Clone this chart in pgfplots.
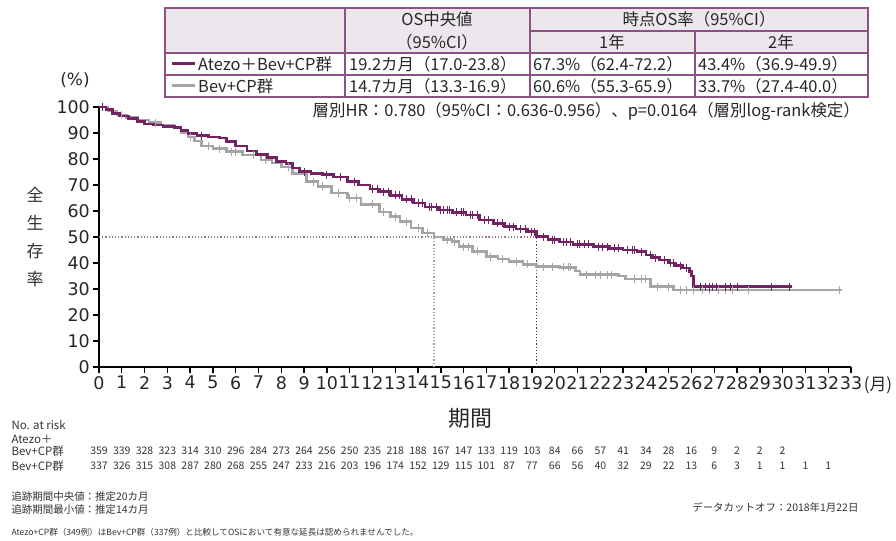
\documentclass[border=0pt]{standalone}
\usepackage{fontspec}
\setmainfont{Noto Sans CJK JP}
\newfontfamily\dejavu{DejaVu Sans}
\usepackage{pgfplots}
\pgfplotsset{compat=1.18}
\definecolor{kpurple}{RGB}{115,35,100}
\definecolor{kgray}{RGB}{165,165,165}
\definecolor{kborder}{RGB}{140,80,130}
\definecolor{khead}{RGB}{236,231,236}
\definecolor{kdot}{RGB}{150,120,140}
\newcommand{\fs}[1]{\fontsize{#1}{#1}\selectfont}
\begin{document}
\begin{tikzpicture}[x=1bp,y=1bp]
\useasboundingbox (0,0) rectangle (896,541);
\begin{axis}[at={(99bp,174bp)}, anchor=south west, scale only axis,
  width=752bp, height=260bp, xmin=0, xmax=33, ymin=0, ymax=100,
  axis x line=bottom, axis y line=left,
  axis line style={line width=1.6bp,-},
  xtick={0,...,33}, ytick={0,10,...,100},
  tick align=outside, major tick length=6bp,
  tick style={line width=1.4bp,black},
  ticklabel style={font=\dejavu\fs{17.5}, text=black!85},
  /pgf/number format/assume math mode=true,
  xticklabel style={inner sep=3bp},
  yticklabel style={inner sep=3bp},
  clip=false]
\addplot[kdot, dotted, line width=1.2bp] coordinates {(0,50) (19.2,50)};
\addplot[kgray, dotted, line width=1.2bp] coordinates {(14.7,0) (14.7,50)};
\addplot[kpurple, dotted, line width=1.2bp] coordinates {(19.2,0) (19.2,50)};
% Bev+CP
\addplot[const plot, kgray, line width=2.5bp] coordinates {
(0,100) (0.4,98.5) (0.8,97) (1.2,96) (1.7,95) (2.2,94) (2.7,93) (3.3,92) (3.6,90) (3.9,88.5)
(4.2,87) (4.5,85) (5.0,84) (5.6,82.8) (6.3,81.5) (7.1,79.6) (7.6,78.5) (8.0,77) (8.5,74.5)
(9.1,71.3) (9.6,69.5) (10.2,67) (10.9,64.9) (11.5,62.5) (12.3,59.7) (12.8,57.8) (13.2,55.9)
(13.7,53.5) (14.2,51.5) (14.7,50) (15.1,49) (15.5,48.2) (15.8,46.3) (16.4,44.5) (17.0,42.4)
(17.5,41.5) (18.0,40.5) (18.6,39.5) (19.2,38.6) (20.2,38.3) (20.9,37) (21.1,35.5) (22.8,35)
(23.1,33.8) (24.2,30.9) (25.2,29.6) (32.6,29.6)};
\addplot[only marks, mark=|, mark size=4bp, kgray, mark options={line width=1bp}] coordinates {
(1.0,97) (2.5,94) (4.0,88.5) (4.8,85) (5.3,84) (5.8,82.8) (6.0,82.8) (6.8,81.5) (7.3,79.6) (8.3,77)
(9.4,71.3) (9.8,69.5) (10.5,67) (11.0,64.9) (11.3,64.9) (12.0,62.5) (12.5,59.7) (13.0,57.8)
(13.5,55.9) (14.0,53.5) (14.4,51.5) (15.3,49) (15.6,48.2) (16.0,46.3) (16.2,46.3) (16.6,44.5)
(17.2,42.4) (17.7,41.5) (18.3,40.5) (18.8,39.5) (19.5,38.6) (19.9,38.6) (20.4,38.3) (20.6,38.3)
(20.7,38.3) (21.4,35.5) (21.8,35.5) (22.0,35.5) (22.3,35.5) (22.5,35.5) (23.5,33.8) (23.8,33.8)
(24.0,33.8) (24.5,30.9) (25.0,30.9) (25.5,29.6) (25.8,29.6) (26.1,29.6) (26.5,29.6) (26.8,29.6)
(27.2,29.6) (27.5,29.6) (27.8,29.6) (28.5,29.6) (32.5,29.6)};
% Atezo+Bev+CP
\addplot[const plot, kpurple, line width=2.6bp] coordinates {
(0,100) (0.3,99) (0.6,97.5) (0.9,96.5) (1.3,95.5) (1.7,94.5) (2.0,93.5) (2.4,93) (2.8,92.5)
(3.3,92) (3.6,91) (3.9,89.8) (4.3,89) (4.8,88.5) (5.3,88) (5.6,86.8) (6.0,85) (6.5,83) (6.9,81.8)
(7.4,80.5) (7.8,79) (8.2,78.3) (8.5,76.5) (8.8,75.1) (9.3,74.5) (9.8,74) (10.3,73) (10.9,71.3)
(11.4,70) (11.9,68.5) (12.3,67.4) (12.8,66) (13.3,64.5) (13.8,63) (14.3,61.5) (14.9,60.4)
(15.5,59.5) (16.1,58.5) (16.7,56.5) (17.3,55.3) (17.8,54) (18.3,53) (18.8,52) (19.2,50.1)
(19.7,49) (20.2,48) (20.8,47.2) (21.7,46.3) (22.4,45.6) (23.0,45) (23.6,44.4) (24.0,43)
(24.3,42) (24.6,41.2) (25.0,40) (25.3,39) (25.6,38) (25.9,36.7) (26.0,35) (26.1,30.9) (30.4,30.9)};
\addplot[only marks, mark=|, mark size=4bp, kpurple, mark options={line width=1bp}] coordinates {
(0.15,100) (4.5,89) (9.0,75.1) (10.0,74) (10.6,73) (11.2,71.3) (12.0,68.5) (12.2,68.5) (12.5,67.4)
(12.7,67.4) (13.0,66) (13.2,66) (13.5,64.5) (13.7,64.5) (14.0,63) (14.2,63) (14.5,61.5) (14.6,61.5)
(14.8,61.5) (15.0,60.4) (15.1,60.4) (15.3,60.4) (15.4,60.4) (15.7,59.5) (15.9,59.5) (16.0,59.5)
(16.3,58.5) (16.4,58.5) (16.6,58.5) (16.9,56.5) (17.1,56.5) (17.5,55.3) (17.7,55.3) (18.0,54)
(18.2,54) (18.5,53) (18.7,53) (19.0,52) (19.1,52) (19.5,50.1) (19.9,49) (20.0,49) (20.4,48)
(20.5,48) (20.7,48) (21.0,47.2) (21.1,47.2) (21.3,47.2) (21.5,47.2) (21.9,46.3) (22.1,46.3)
(22.3,46.3) (22.6,45.6) (22.8,45.6) (23.2,45) (23.4,45) (23.5,45) (23.8,44.4) (24.2,43) (24.4,42)
(24.8,41.2) (25.1,40) (25.2,40) (25.5,39) (25.8,38) (26.4,30.9) (26.6,30.9) (26.8,30.9)
(26.9,30.9) (27.1,30.9) (27.5,30.9) (27.7,30.9) (28.0,30.9) (29.5,30.9) (30.3,30.9)};
\end{axis}
% axis annotations
\node[font=\fs{17}, text=black!85] at (878,156) {(月)};
\node[font=\dejavu\fs{17}, text=black!85] at (75,461) {(\%)};
\node[font=\fs{17}, align=center, inner sep=0, text=black!80] at (35,304) {全\\[11bp]生\\[11bp]存\\[11bp]率};
\node[font=\fs{22}, text=black!85] at (470,123) {期間};
% table
\fill[khead] (165,488) rectangle (868,533);
\begin{scope}[kborder, line width=1.3bp]
\draw (165,444) rectangle (868,533);
\draw (345,444)--(345,533);
\draw (530,444)--(530,533);
\draw (695,444)--(695,510);
\draw (530,510)--(868,510);
\draw (165,488)--(868,488);
\draw (165,466)--(868,466);
\end{scope}
\begin{scope}[font=\fs{16.5}, text=black!85, inner sep=2bp]
\node at (437,522) {OS中央値};
\node at (437,499) {（95\%CI）};
\node at (699,522) {時点OS率（95\%CI）};
\node at (612,499) {1年};
\node at (781,499) {2年};
\node[anchor=west] at (196,477) {Atezo＋Bev+CP群};
\node[anchor=west] at (196,455) {Bev+CP群};
\node[anchor=west] at (347,477) {19.2カ月（17.0-23.8）};
\node[anchor=west] at (347,455) {14.7カ月（13.3-16.9）};
\node[anchor=west] at (531,477) {67.3\%（62.4-72.2）};
\node[anchor=west] at (531,455) {60.6\%（55.3-65.9）};
\node[anchor=west] at (696,477) {43.4\%（36.9-49.9）};
\node[anchor=west] at (696,455) {33.7\%（27.4-40.0）};
\node[anchor=east] at (862,429) {層別HR：0.780（95\%CI：0.636-0.956）、p=0.0164（層別log-rank検定）};
\end{scope}
\draw[kpurple, line width=3bp] (172,477)--(195,477);
\draw[kgray, line width=3bp] (172,455)--(195,455);
% number at risk
\begin{scope}[font=\fs{11.5}, text=black!80]
\node[anchor=west] at (8,116) {No. at risk};
\node[anchor=west] at (8,102) {Atezo＋};
\node[anchor=west] at (8,90) {Bev+CP群};
\node[anchor=west] at (8,75) {Bev+CP群};
\end{scope}
\begin{scope}[font=\fs{10.5}, text=black!80]
\foreach \v [count=\i from 0] in {359,339,328,323,314,310,296,284,273,264,256,250,235,218,188,167,147,133,119,103,84,66,57,41,34,28,16,9,2,2,2}
  \node at ({99+22.788*\i},90) {\v};
\foreach \v [count=\i from 0] in {337,326,315,308,287,280,268,255,247,233,216,203,196,174,152,129,115,101,87,77,66,56,40,32,29,22,13,6,3,1,1,1,1}
  \node at ({99+22.788*\i},75) {\v};
\node[anchor=west] at (8,44) {追跡期間中央値：推定20カ月};
\node[anchor=west] at (8,31) {追跡期間最小値：推定14カ月};
\node[anchor=east] at (862,34) {データカットオフ：2018年1月22日};
\node[anchor=west, font=\fs{8.6}] at (8,9) {Atezo+CP群（349例）はBev+CP群（337例）と比較してOSにおいて有意な延長は認められませんでした。};
\end{scope}
\end{tikzpicture}
\end{document}
